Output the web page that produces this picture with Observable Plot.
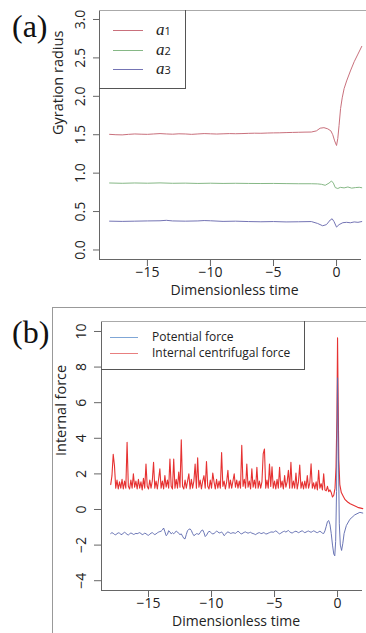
<!DOCTYPE html>
<html><head><meta charset="utf-8">
<script src="https://cdn.jsdelivr.net/npm/d3@7"></script>
<script src="https://cdn.jsdelivr.net/npm/@observablehq/plot@0.6"></script>
<style>
body{margin:0;background:#fff;}
#wrap{position:relative;width:366px;height:633px;overflow:hidden;font-family:"Open Sans",sans-serif;color:#222;}
.abs{position:absolute;}
.hl{position:absolute;height:0;border-top:1px solid #999;}
.vl{position:absolute;width:0;border-left:1px solid #999;}
.lab{position:absolute;font-family:"Liberation Serif",serif;font-size:32px;line-height:1;color:#111;}
</style></head><body><div id="wrap"></div>
<script>
// ---------- Panel (a): gyration radii ----------
const xTicks = [-15, -10, -5, 0];
const yTicksA = [0, 0.5, 1, 1.5, 2, 2.5, 3];
const yTicksB = [-4, -2, 0, 2, 4, 6, 8, 10];
const namesA = ["a1", "a2", "a3"];
const colorsA = ["#c9707c", "#86b886", "#7474b4"];

const a1 = [[-18,1.505],[-17.5,1.50],[-17,1.498],[-16.5,1.505],[-16,1.51],[-15.5,1.507],[-15,1.505],[-14.5,1.51],[-14,1.515],[-13.5,1.51],[-13,1.507],[-12.5,1.512],[-12,1.51],[-11.5,1.505],[-11,1.51],[-10.5,1.515],[-10,1.512],[-9.5,1.509],[-9,1.512],[-8.5,1.515],[-8,1.513],[-7.5,1.515],[-7,1.518],[-6.5,1.52],[-6,1.519],[-5.5,1.522],[-5,1.524],[-4.5,1.525],[-4,1.528],[-3.5,1.53],[-3,1.532],[-2.5,1.534],[-2,1.535],[-1.6,1.55],[-1.3,1.585],[-1.0,1.592],[-0.7,1.577],[-0.45,1.55],[-0.3,1.50],[-0.15,1.42],[0,1.36],[0.1,1.45],[0.2,1.62],[0.32,1.84],[0.45,1.98],[0.6,2.1],[0.8,2.2],[1.1,2.33],[1.4,2.45],[1.7,2.55],[2.0,2.65]];
const a2 = [[-18,0.872],[-17,0.868],[-16,0.872],[-15,0.869],[-14,0.873],[-13,0.868],[-12,0.87],[-11,0.866],[-10,0.869],[-9,0.866],[-8,0.868],[-7,0.866],[-6,0.865],[-5,0.866],[-4,0.864],[-3,0.862],[-2,0.862],[-1.5,0.86],[-1.2,0.855],[-0.9,0.842],[-0.6,0.87],[-0.4,0.898],[-0.25,0.87],[-0.1,0.812],[0.1,0.80],[0.3,0.815],[0.6,0.808],[0.9,0.82],[1.2,0.805],[1.5,0.812],[1.8,0.816],[2.0,0.81]];
const a3 = [[-18,0.375],[-17,0.372],[-16,0.375],[-15,0.378],[-14,0.38],[-13.5,0.386],[-13,0.378],[-12,0.375],[-11,0.378],[-10.5,0.383],[-10,0.38],[-9,0.372],[-8,0.375],[-7,0.37],[-6,0.367],[-5,0.37],[-4,0.365],[-3,0.367],[-2,0.37],[-1.5,0.345],[-1.1,0.315],[-0.8,0.33],[-0.5,0.39],[-0.35,0.406],[-0.2,0.37],[0,0.298],[0.2,0.33],[0.5,0.355],[0.8,0.36],[1.1,0.354],[1.4,0.365],[1.7,0.36],[2.0,0.37]];

// ---------- Panel (b): internal forces ----------
const bNames = ["Potential force", "Internal centrifugal force"];
const bColors = ["#5a66ad", "#e63232"];
// samples every 0.1 from t = -18.0 to t = -1.0
const centrifugalNoisy = [
 1.4,1.9,3.1,2.45,1.2,1.65,1.15,1.55,1.2,1.7,
 1.15,1.6,1.2,3.78,1.3,1.15,1.65,1.2,2.0,1.25,
 1.6,1.15,1.7,1.2,1.55,1.1,1.75,1.2,2.55,1.3,
 1.15,1.65,1.2,1.6,2.65,1.2,1.6,1.15,1.7,2.28,
 1.2,1.6,1.15,1.9,1.25,1.65,1.2,2.84,1.3,1.15,
 2.84,1.2,1.7,1.2,2.1,1.25,3.91,1.3,1.15,1.65,
 1.2,1.6,2.0,1.15,1.7,1.2,1.6,2.55,1.2,2.9,
 1.25,1.65,1.15,1.6,1.9,1.2,2.7,1.3,1.15,1.65,
 1.2,2.05,1.55,1.15,1.7,1.2,1.6,1.2,3.2,1.3,
 1.6,1.15,1.55,2.2,1.2,1.65,1.2,1.6,2.0,1.25,
 1.65,1.2,1.6,1.2,3.6,1.3,1.7,1.2,2.55,1.25,
 1.6,1.15,2.28,1.25,1.65,1.2,2.37,1.2,1.6,1.2,
 1.55,3.12,3.4,1.2,1.65,1.2,2.55,1.3,2.4,1.2,
 1.6,1.15,1.7,1.2,2.37,1.25,1.6,1.15,1.9,1.25,
 1.55,2.2,1.2,2.65,1.2,1.6,1.2,2.05,1.15,1.55,
 2.5,1.2,1.55,1.15,1.6,1.2,1.9,1.2,1.5,2.56,
 1.2,1.5,1.15,1.55,1.1,2.2,1.2,1.45,1.1,2.0,
 1.1];
const potentialNoisy = [
 -1.35,-1.30,-1.34,-1.40,-1.42,-1.36,-1.31,-1.33,-1.39,-1.41,
 -1.32,-1.28,-1.33,-1.40,-1.43,-1.37,-1.32,-1.35,-1.40,-1.38,
 -1.34,-1.36,-1.33,-1.30,-1.35,-1.41,-1.38,-1.33,-1.36,-1.42,
 -1.45,-1.39,-1.33,-1.30,-1.36,-1.41,-1.37,-1.31,-1.27,-1.24,
 -1.22,-1.15,-1.04,-1.25,-1.47,-1.40,-1.19,-1.26,-1.37,-1.30,
 -1.37,-1.28,-1.22,-1.26,-1.35,-1.41,-1.37,-1.50,-1.62,-1.65,
 -1.40,-1.18,-1.12,-1.09,-1.18,-1.35,-1.47,-1.42,-1.36,-1.37,
 -1.40,-1.30,-1.18,-1.15,-1.30,-1.52,-1.45,-1.32,-1.22,-1.26,
 -1.33,-1.37,-1.35,-1.28,-1.22,-1.25,-1.32,-1.30,-1.26,-1.35,
 -1.47,-1.40,-1.30,-1.26,-1.29,-1.34,-1.33,-1.30,-1.32,-1.34,
 -1.28,-1.22,-1.27,-1.35,-1.37,-1.32,-1.28,-1.26,-1.30,-1.33,
 -1.30,-1.28,-1.33,-1.35,-1.38,-1.41,-1.36,-1.32,-1.30,-1.34,
 -1.35,-1.30,-1.32,-1.37,-1.37,-1.33,-1.30,-1.27,-1.26,-1.28,
 -1.24,-1.20,-1.25,-1.32,-1.37,-1.33,-1.28,-1.24,-1.22,-1.27,
 -1.22,-1.18,-1.25,-1.30,-1.32,-1.28,-1.24,-1.22,-1.26,-1.30,
 -1.27,-1.22,-1.20,-1.25,-1.30,-1.27,-1.23,-1.21,-1.25,-1.28,
 -1.24,-1.20,-1.23,-1.28,-1.30,-1.26,-1.22,-1.27,-1.33,-1.35,
 -1.20];
const centrifugalTail = [[-0.9,1.05],[-0.8,1.3],[-0.7,1.0],[-0.6,1.1],[-0.5,0.95],[-0.4,0.7],[-0.3,0.8],[-0.2,1.2],[-0.12,2.4],[-0.05,5.2],[0,9.65],[0.05,6.0],[0.1,2.8],[0.18,1.4],[0.3,0.95],[0.45,0.75],[0.6,0.55],[0.8,0.42],[1.0,0.32],[1.3,0.22],[1.6,0.12],[2.0,0.05]];
const potentialTail = [[-0.9,-0.95],[-0.8,-0.68],[-0.7,-0.62],[-0.6,-0.85],[-0.5,-1.35],[-0.4,-2.0],[-0.3,-2.5],[-0.22,-2.6],[-0.15,-1.8],[-0.08,1.0],[0,7.4],[0.07,3.0],[0.14,-0.8],[0.22,-2.0],[0.32,-2.3],[0.42,-1.9],[0.52,-1.35],[0.7,-0.9],[0.98,-0.55],[1.37,-0.3],[1.77,-0.16],[2.0,-0.2]];

const FONT = '"Open Sans", sans-serif';
const wrap = document.getElementById("wrap");
function add(html){ const d = document.createElement("div"); d.innerHTML = html; while (d.firstChild) wrap.appendChild(d.firstChild); }
function place(node, left, top){ node.style.position = "absolute"; node.style.left = left + "px"; node.style.top = top + "px"; wrap.appendChild(node); }

// ---- build tables
const tableA = [];
[a1, a2, a3].forEach((s, k) => s.forEach(([t, v]) => tableA.push({t, v, s: namesA[k]})));
const tNoisy = d3.range(centrifugalNoisy.length).map(i => -18 + i / 10);
const potential = tNoisy.map((t, i) => ({t, v: potentialNoisy[i]})).concat(potentialTail.map(([t, v]) => ({t, v})));
const centrifugal = tNoisy.map((t, i) => ({t, v: centrifugalNoisy[i]})).concat(centrifugalTail.map(([t, v]) => ({t, v})));

const xDomA = [-18.8, 1.98], yDomA = [-0.124, 3.117];
const chartA = Plot.plot({
  width: 366, height: 305,
  marginTop: 10, marginBottom: 46, marginLeft: 99, marginRight: 5,
  x: {domain: xDomA, label: null},
  y: {domain: yDomA, label: null},
  color: {domain: namesA, range: colorsA},
  style: {fontFamily: FONT, fontSize: "14px", background: "transparent", color: "#222"},
  marks: [
    Plot.ruleY([yDomA[0]], {stroke: "#666"}),
    Plot.ruleX([xDomA[0]], {stroke: "#666"}),
    Plot.line(tableA, {x: "t", y: "v", z: "s", stroke: "s", strokeWidth: 1}),
    Plot.axisX({ticks: xTicks, tickSize: 7, tickPadding: 1, stroke: "#666", fontSize: 14, label: null}),
    Plot.axisY({ticks: yTicksA, tickSize: 6, tickRotate: -90, tickPadding: 9, stroke: "#666", fontSize: 14, tickFormat: d3.format(".1f"), label: null}),
    Plot.text(["Gyration radius"], {frameAnchor: "left", dx: -41, rotate: -90, fontSize: 14.5}),
    Plot.text(["Dimensionless time"], {frameAnchor: "bottom", dy: 35, dx: 4, fontSize: 14})
  ]
});
place(chartA, 0, 0);

const xDomB = [-18.73, 1.98], yDomB = [-4.55, 10.56];
const chartB = Plot.plot({
  width: 366, height: 323,
  marginTop: 11, marginBottom: 43, marginLeft: 101, marginRight: 4,
  x: {domain: xDomB, label: null},
  y: {domain: yDomB, label: null},
  style: {fontFamily: FONT, fontSize: "14px", background: "transparent", color: "#222"},
  marks: [
    Plot.ruleY([yDomB[0]], {stroke: "#666"}),
    Plot.ruleX([xDomB[0]], {stroke: "#666"}),
    Plot.line(centrifugal, {x: "t", y: "v", stroke: bColors[1], strokeWidth: 1.1}),
    Plot.line(potential, {x: "t", y: "v", stroke: bColors[0], strokeWidth: 0.9}),
    Plot.axisX({ticks: xTicks, tickSize: 7, tickPadding: 1, stroke: "#666", fontSize: 14, label: null}),
    Plot.axisY({ticks: yTicksB, tickSize: 7, tickRotate: -90, tickPadding: 9, stroke: "#666", fontSize: 14, tickFormat: d3.format("d"), label: null}),
    Plot.text(["Internal force"], {frameAnchor: "left", dx: -40, rotate: -90, fontSize: 14.5}),
    Plot.text(["Dimensionless time"], {frameAnchor: "bottom", dy: 35, dx: 4, fontSize: 14})
  ]
});
place(chartB, 0, 310);

// ---- decorations: panel frames, labels, legends
add(`<div class="hl" style="left:99px;top:10px;width:267px;border-color:#aaa"></div>`);
add(`<div class="hl" style="left:52px;top:307px;width:314px;border-color:#999"></div>`);
add(`<div class="vl" style="left:52px;top:307px;height:326px;border-color:#999"></div>`);
add(`<div class="hl" style="left:101px;top:321px;width:265px;border-color:#aaa"></div>`);
add(`<div class="lab" style="left:12px;top:10px">(a)</div>`);
add(`<div class="lab" style="left:12px;top:316px">(b)</div>`);

// legend (a)
add(`<div class="abs" style="left:99px;top:10px;width:86px;height:78px;border-right:1px solid #555;border-bottom:1px solid #555"></div>`);
namesA.forEach((n, k) => {
  const y = 30 + k * 19.5;
  add(`<div class="hl" style="left:113px;top:${y}px;width:30px;border-color:${colorsA[k]}"></div>`);
  add(`<div class="abs" style="left:156px;top:${y - 10}px;font-family:'Liberation Serif',serif;font-size:17px;line-height:20px;color:#222"><i>${n[0]}</i><span style="font-family:'Open Sans';font-size:11px">${n.slice(1)}</span></div>`);
});
// legend (b)
add(`<div class="abs" style="left:101px;top:321px;width:203px;height:48px;border-right:1px solid #555;border-bottom:1px solid #555"></div>`);
const bLegendColors = ["#7fa6d6", "#e87f7f"];
bNames.forEach((n, k) => {
  const y = 337 + k * 16;
  add(`<div class="hl" style="left:110px;top:${y}px;width:28px;border-color:${bLegendColors[k]}"></div>`);
  add(`<div class="abs" style="left:152px;top:${y - 9}px;font-size:12px;line-height:18px;color:#222;white-space:nowrap">${n}</div>`);
});
</script></body></html>
